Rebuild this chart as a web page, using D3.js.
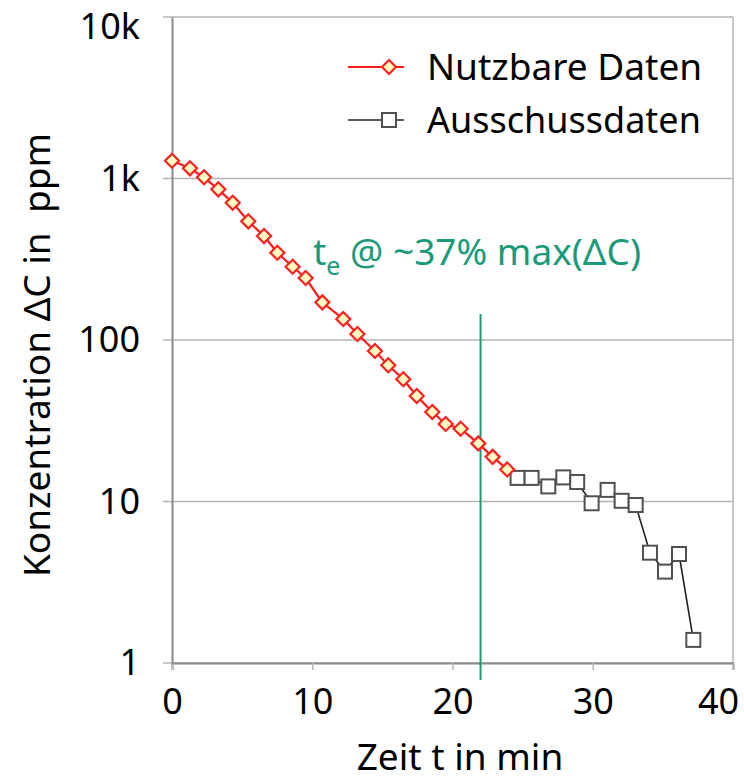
<!DOCTYPE html>
<html>
<head>
<meta charset="utf-8">
<script src="https://cdn.jsdelivr.net/npm/d3@7"></script>
<style>
  html, body { margin: 0; padding: 0; background: #fff; }
  svg { display: block; font-family: "Noto Sans", sans-serif; }
</style>
</head>
<body>
<div id="chart"></div>
<script>
// Messwerte (Zeit in min, Konzentration in ppm)
const usableTime = [0, 1.28, 2.28, 3.3, 4.33, 5.44, 6.56, 7.51, 8.6, 9.53, 10.72, 12.21, 13.22, 14.47, 15.42, 16.49, 17.45, 18.56, 19.51, 20.58, 21.84, 22.86, 23.9]
const usableConc = [1289, 1156, 1017, 857, 708, 543, 440, 347, 284, 242, 171, 135, 109, 85.5, 69.7, 57.1, 45.0, 35.8, 30.2, 28.2, 22.9, 18.9, 15.8]
const rejectTime = [24.64, 25.64, 26.83, 27.9, 28.89, 29.92, 31.06, 32.06, 33.06, 34.08, 35.15, 36.15, 37.17]
const rejectConc = [14.0, 14.0, 12.4, 14.1, 13.2, 9.75, 11.8, 10.1, 9.51, 4.82, 3.68, 4.73, 1.39]

const xTicks = [0, 10, 20, 30, 40]
const yTicks = [1, 10, 100, 1000, 10000]
const yTickLabels = ['1', '10', '100', '1k', '10k']
const teTime = 22

const width = 744
const height = 780
const margin = { top: 17, right: 11, bottom: 117, left: 172 }
const bigFont = 37
const tickFont = 36

const svg = d3.select('#chart').append('svg')
  .attr('width', width)
  .attr('height', height)

const x = d3.scaleLinear().domain([0, 40]).range([margin.left, width - margin.right])
const y = d3.scaleLog().domain([1, 10000]).range([height - margin.bottom, margin.top])

// Gitterlinien
svg.append('g')
  .selectAll('line')
  .data(yTicks)
  .join('line')
  .attr('x1', margin.left - 9)
  .attr('x2', width - margin.right)
  .attr('y1', d => y(d))
  .attr('y2', d => y(d))
  .attr('stroke', '#b4b4b4')
  .attr('stroke-width', 1.5)

// rechter Rand
svg.append('line')
  .attr('x1', width - margin.right).attr('x2', width - margin.right)
  .attr('y1', y(10000)).attr('y2', y(1))
  .attr('stroke', '#b4b4b4').attr('stroke-width', 1.5)

// Achsen
const xAxis = svg.append('g')
  .attr('transform', `translate(0,${y(1)})`)
  .call(d3.axisBottom(x).tickValues(xTicks).tickSize(7).tickPadding(18).tickFormat(d3.format('d')))
xAxis.select('.domain').attr('stroke', '#8a8a8a').attr('stroke-width', 2)
xAxis.selectAll('.tick line').attr('stroke', '#b4b4b4').attr('stroke-width', 1.5)
xAxis.selectAll('.tick text').attr('font-size', tickFont).attr('fill', '#000')
  .attr('font-family', '"Noto Sans", sans-serif')
  .attr('dx', d => d === 40 ? -15 : 0)

const yAxis = svg.append('g')
  .attr('transform', `translate(${margin.left},0)`)
  .call(d3.axisLeft(y).tickValues(yTicks).tickSize(0).tickPadding(32)
    .tickFormat((d, i) => yTickLabels[i]))
yAxis.select('.domain').attr('stroke', '#8a8a8a').attr('stroke-width', 2)
yAxis.selectAll('.tick text').attr('font-size', tickFont).attr('fill', '#000')
  .attr('font-family', '"Noto Sans", sans-serif')
  .attr('y', d => d === 10000 ? 10 : 0)

// t_e Markierung
svg.append('line')
  .attr('x1', x(teTime)).attr('x2', x(teTime))
  .attr('y1', 314).attr('y2', y(1) + 17)
  .attr('stroke', '#1a9a78').attr('stroke-width', 2)

const note = svg.append('text')
  .attr('x', 313).attr('y', 265)
  .attr('font-size', bigFont)
  .attr('fill', '#1a9a78')
note.append('tspan').text('t')
note.append('tspan').attr('font-size', 25).attr('dy', 10).text('e')
note.append('tspan').attr('dy', -10).text(' @ ~37% max(ΔC)')

// Linien
const line = d3.line().x(d => x(d[0])).y(d => y(d[1]))
const usable = d3.zip(usableTime, usableConc)
const reject = d3.zip(rejectTime, rejectConc)

svg.append('path')
  .datum(reject)
  .attr('d', line)
  .attr('fill', 'none')
  .attr('stroke', '#222')
  .attr('stroke-width', 1.6)

svg.append('path')
  .datum(usable)
  .attr('d', line)
  .attr('fill', 'none')
  .attr('stroke', '#ff1a1a')
  .attr('stroke-width', 2.2)

const diamond = s => `M0,${-s}L${s},0L0,${s}L${-s},0Z`

svg.append('g')
  .selectAll('rect')
  .data(reject)
  .join('rect')
  .attr('x', d => x(d[0]) - 7)
  .attr('y', d => y(d[1]) - 7)
  .attr('width', 14)
  .attr('height', 14)
  .attr('fill', '#fff')
  .attr('stroke', '#505050')
  .attr('stroke-width', 2)

svg.append('g')
  .selectAll('path')
  .data(usable)
  .join('path')
  .attr('transform', d => `translate(${x(d[0])},${y(d[1])})`)
  .attr('d', diamond(7))
  .attr('fill', '#ffffc4')
  .attr('stroke', '#ff2020')
  .attr('stroke-width', 2.2)

// Legende
const legend = svg.append('g')
const leg1 = legend.append('g').attr('transform', 'translate(0,67)')
leg1.append('line').attr('x1', 348).attr('x2', 404).attr('stroke', '#ff1a1a').attr('stroke-width', 2.2)
leg1.append('path').attr('transform', 'translate(389,0)').attr('d', diamond(7))
  .attr('fill', '#ffffc4').attr('stroke', '#ff2020').attr('stroke-width', 2.2)
leg1.append('text').attr('x', 427).attr('y', 13).attr('font-size', bigFont).text('Nutzbare Daten')

const leg2 = legend.append('g').attr('transform', 'translate(0,120)')
leg2.append('line').attr('x1', 348).attr('x2', 404).attr('stroke', '#222').attr('stroke-width', 1.6)
leg2.append('rect').attr('x', 382).attr('y', -7).attr('width', 14).attr('height', 14)
  .attr('fill', '#fff').attr('stroke', '#505050').attr('stroke-width', 2)
leg2.append('text').attr('x', 427).attr('y', 13).attr('font-size', 36).text('Ausschussdaten')

// Achsentitel
svg.append('text')
  .attr('x', 460).attr('y', 770)
  .attr('text-anchor', 'middle')
  .attr('font-size', bigFont)
  .text('Zeit t in min')

svg.append('text')
  .attr('transform', 'translate(50,355) rotate(-90)')
  .attr('text-anchor', 'middle')
  .attr('font-size', bigFont)
  .attr('xml:space', 'preserve')
  .style('white-space', 'pre')
  .text('Konzentration ΔC in  ppm')
</script>
</body>
</html>
